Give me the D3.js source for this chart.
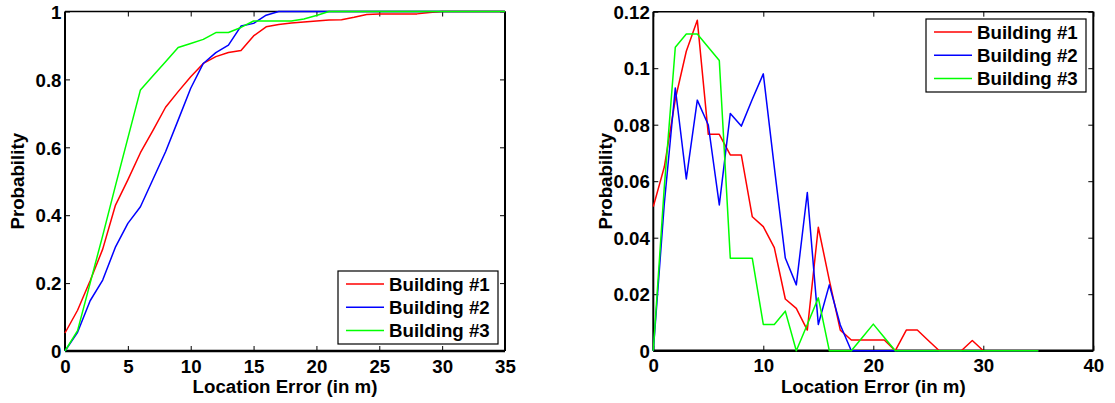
<!DOCTYPE html>
<html>
<head>
<meta charset="utf-8">
<script src="https://cdn.jsdelivr.net/npm/d3@7"></script>
<style>
  html, body { margin: 0; padding: 0; background: #fff; }
  svg { display: block; }
  text { font-family: "Liberation Sans", Arial, Helvetica, sans-serif; font-weight: bold; fill: #000; }
</style>
</head>
<body>
<svg id="chart" width="1115" height="403"></svg>
<script>
// ---------- data ----------
const locationError = [0,1,2,3,4,5,6,7,8,9,10,11,12,13,14,15,16,17,18,19,20,21,22,23,24,25,26,27,28,29,30,31,32,33,34,35];
const seriesNames = ["Building #1", "Building #2", "Building #3"];

// CDF (left panel)
const cdfBuilding1 = [0.053,0.12,0.207,0.3,0.428,0.504,0.584,0.65,0.718,0.764,0.808,0.847,0.867,0.879,0.885,0.928,0.955,0.962,0.966,0.969,0.972,0.975,0.976,0.983,0.991,0.993,0.993,0.993,0.993,0.997,1,1,1,1,1,1];
const cdfBuilding2 = [0,0.055,0.148,0.209,0.305,0.376,0.425,0.506,0.587,0.68,0.774,0.847,0.879,0.901,0.957,0.965,0.989,1,1,1,1,1,1,1,1,1,1,1,1,1,1,1,1,1,1,1];
const cdfBuilding3 = [0,0.06,0.2,0.34,0.485,0.627,0.769,0.811,0.852,0.894,0.906,0.918,0.938,0.938,0.953,0.972,0.972,0.972,0.972,0.978,0.988,1,1,1,1,1,1,1,1,1,1,1,1,1,1,1];

// PDF (right panel)
const pdfBuilding1 = [0.051,0.065,0.089,0.106,0.117,0.0766,0.0766,0.0693,0.0693,0.0474,0.0439,0.0365,0.0183,0.015,0.0073,0.0437,0.025,0.0073,0.0038,0.0038,0.0038,0.0038,0,0.0073,0.0073,0.0036,0,0,0,0.0036,0,0,0,0,0,0];
const pdfBuilding2 = [0,0.052,0.093,0.0608,0.0887,0.0799,0.0516,0.084,0.0795,0.089,0.098,0.065,0.0328,0.0233,0.056,0.0093,0.0233,0.0091,0,0,0,0,0,0,0,0,0,0,0,0,0,0,0,0,0,0];
const pdfBuilding3 = [0,0.058,0.1074,0.1121,0.1121,0.1074,0.1027,0.0327,0.0327,0.0327,0.0093,0.0093,0.014,0,0.0093,0.0187,0,0,0,0.0047,0.0094,0.0047,0,0,0,0,0,0,0,0,0,0,0,0,0,0];

// tick labels
const leftXTicks = [0,5,10,15,20,25,30,35];
const leftYTicks = [0,0.2,0.4,0.6,0.8,1];
const leftYTickLabels = ["0","0.2","0.4","0.6","0.8","1"];
const rightXTicks = [0,10,20,30,40];
const rightYTicks = [0,0.02,0.04,0.06,0.08,0.1,0.12];
const rightYTickLabels = ["0","0.02","0.04","0.06","0.08","0.1","0.12"];

const xLabel = "Location Error (in m)";
const yLabel = "Probability";
const colors = ["#ff0000", "#0000ff", "#00ff00"];

// ---------- drawing ----------
const svg = d3.select("#chart");
const FS = 18.7;

function panel(opt) {
  const x = d3.scaleLinear().domain(opt.xDomain).range([opt.left, opt.right]);
  const y = d3.scaleLinear().domain(opt.yDomain).range([opt.bottom, opt.top]);
  const g = svg.append("g");
  const tickLen = 5;

  // bottom axis (ticks inward)
  const xAxis = d3.axisBottom(x).tickValues(opt.xTicks).tickSize(-tickLen).tickPadding(12).tickFormat(d3.format("d"));
  const gx = g.append("g").attr("transform", `translate(0,${opt.bottom})`).call(xAxis);
  gx.select(".domain").remove();
  gx.selectAll("line").attr("stroke", "#000").attr("stroke-width", 1);
  gx.selectAll("text").attr("font-size", FS).attr("font-family", null).attr("dy", "0.84em").attr("y", 6);

  // top ticks
  const gxt = g.append("g").attr("transform", `translate(0,${opt.top})`)
    .call(d3.axisTop(x).tickValues(opt.xTicks).tickSize(-tickLen).tickFormat(""));
  gxt.select(".domain").remove();
  gxt.selectAll("line").attr("stroke", "#000").attr("stroke-width", 1);

  // left axis
  const yAxis = d3.axisLeft(y).tickValues(opt.yTicks).tickSize(-tickLen).tickPadding(4)
    .tickFormat((d, i) => opt.yTickLabels[i]);
  const gy = g.append("g").attr("transform", `translate(${opt.left},0)`).call(yAxis);
  gy.select(".domain").remove();
  gy.selectAll("line").attr("stroke", "#000").attr("stroke-width", 1);
  gy.selectAll("text").attr("font-size", FS).attr("font-family", null).attr("x", -3.5).attr("dy", "0.36em");

  // right ticks
  const gyr = g.append("g").attr("transform", `translate(${opt.right},0)`)
    .call(d3.axisRight(y).tickValues(opt.yTicks).tickSize(-tickLen).tickFormat(""));
  gyr.select(".domain").remove();
  gyr.selectAll("line").attr("stroke", "#000").attr("stroke-width", 1);

  // box
  g.append("line").attr("x1", opt.left).attr("x2", opt.right).attr("y1", opt.bottom).attr("y2", opt.bottom).attr("stroke", "#000").attr("stroke-width", 2.4);
  g.append("line").attr("x1", opt.left).attr("x2", opt.left).attr("y1", opt.top).attr("y2", opt.bottom).attr("stroke", "#000").attr("stroke-width", 2);
  g.append("line").attr("x1", opt.left).attr("x2", opt.right).attr("y1", opt.top).attr("y2", opt.top).attr("stroke", "#000").attr("stroke-width", 1.4);
  g.append("line").attr("x1", opt.right).attr("x2", opt.right).attr("y1", opt.top).attr("y2", opt.bottom).attr("stroke", "#000").attr("stroke-width", 2);

  // axis labels
  g.append("text").attr("x", (opt.left + opt.right) / 2).attr("y", opt.bottom + 42)
    .attr("text-anchor", "middle").attr("font-size", FS).text(xLabel);
  g.append("text").attr("transform", `translate(${opt.left - 41},${(opt.top + opt.bottom) / 2}) rotate(-90)`)
    .attr("text-anchor", "middle").attr("font-size", FS).text(yLabel);

  // lines
  const line = d3.line().x((d, i) => x(locationError[i])).y(d => y(d));
  opt.series.forEach((s, k) => {
    g.append("path").datum(s).attr("d", line)
      .attr("fill", "none").attr("stroke", colors[k]).attr("stroke-width", 1.5)
      .attr("stroke-linejoin", "round");
  });

  // legend
  const lg = g.append("g").attr("transform", `translate(${opt.legend[0]},${opt.legend[1]})`);
  lg.append("rect").attr("x", 0).attr("y", 0).attr("width", 160).attr("height", 73)
    .attr("fill", "#fff").attr("stroke", "#000").attr("stroke-width", 1.2);
  seriesNames.forEach((name, k) => {
    const yy = 13 + k * 23.3;
    lg.append("line").attr("x1", 8).attr("x2", 46).attr("y1", yy).attr("y2", yy)
      .attr("stroke", colors[k]).attr("stroke-width", 1.5);
    lg.append("text").attr("x", 51).attr("y", yy).attr("dy", "0.36em")
      .attr("font-size", FS).text(name);
  });
}

panel({
  left: 65, right: 505, top: 11.5, bottom: 351,
  xDomain: [0, 35], yDomain: [0, 1],
  xTicks: leftXTicks, yTicks: leftYTicks, yTickLabels: leftYTickLabels,
  series: [cdfBuilding1, cdfBuilding2, cdfBuilding3],
  legend: [338, 271]
});

panel({
  left: 653.3, right: 1093.3, top: 11.7, bottom: 350.7,
  xDomain: [0, 40], yDomain: [0, 0.12],
  xTicks: rightXTicks, yTicks: rightYTicks, yTickLabels: rightYTickLabels,
  series: [pdfBuilding1, pdfBuilding2, pdfBuilding3],
  legend: [926, 19]
});
</script>
</body>
</html>
